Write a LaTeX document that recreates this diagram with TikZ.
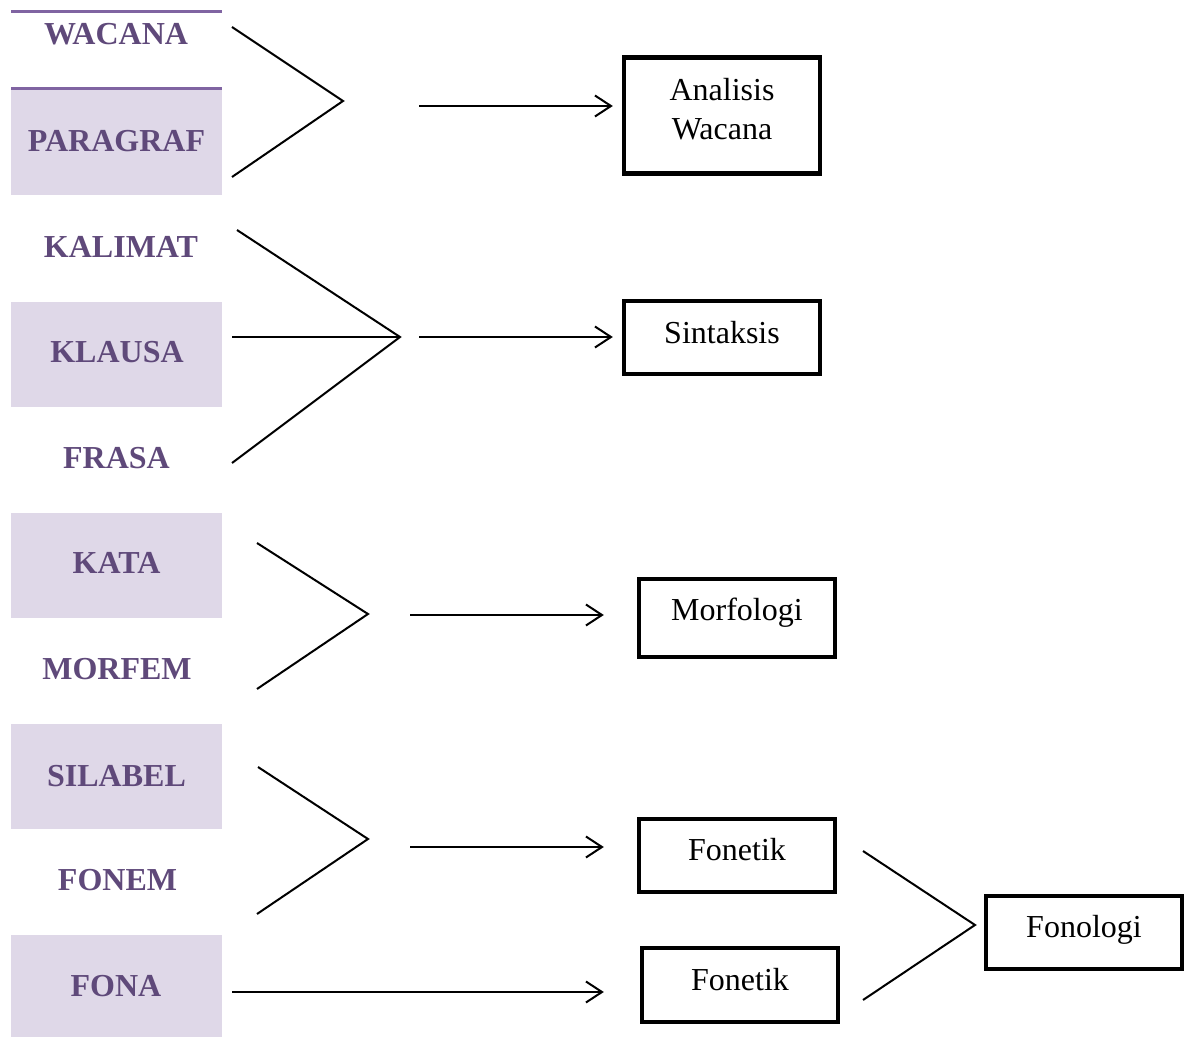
\documentclass[tikz,border=0pt]{standalone}
\usepackage{fontspec}
\setmainfont{Liberation Serif}
\usetikzlibrary{arrows.meta}
\definecolor{cellbg}{HTML}{DFD8E8}
\definecolor{ptext}{HTML}{5F497A}
\definecolor{pline}{HTML}{8064A2}
\begin{document}
\begin{tikzpicture}[x=0.5pt,y=-0.5pt,
  lvl/.style={font=\fontsize{16}{19}\selectfont\bfseries, text=ptext, text height=10.6pt, text depth=0pt, inner sep=0pt},
  box/.style={draw, line width=2.2pt, minimum width=98pt, inner sep=0pt},
  lbl/.style={font=\fontsize{16}{19}\selectfont, text height=10.6pt, text depth=0pt, inner sep=0pt},
  conn/.style={line width=1pt},
  arr/.style={conn, -{Straight Barb[length=8pt,width=10.5pt,line width=1pt]}}]
\useasboundingbox (0,0) rectangle (1189,1037);
% table backgrounds
\fill[cellbg] (11,89) rectangle (222,195);
\fill[cellbg] (11,302) rectangle (222,407);
\fill[cellbg] (11,513) rectangle (222,618);
\fill[cellbg] (11,724) rectangle (222,829);
\fill[cellbg] (11,935) rectangle (222,1037);
\draw[pline, line width=1.5pt] (11,12) -- (222,12);
\draw[pline, line width=1.5pt] (11,89) -- (222,89);
% level labels
\node[lvl] (wacana) at (116,33.5) {WACANA};
\node[lvl] (paragraf) at (116.5,141) {PARAGRAF};
\node[lvl] (kalimat) at (121,247) {KALIMAT};
\node[lvl] (klausa) at (117,352) {KLAUSA};
\node[lvl] (frasa) at (116.5,458) {FRASA};
\node[lvl] (kata) at (116.5,563) {KATA};
\node[lvl] (morfem) at (117,669) {MORFEM};
\node[lvl] (silabel) at (116.5,776) {SILABEL};
\node[lvl] (fonem) at (117.5,880) {FONEM};
\node[lvl] (fona) at (116,986) {FONA};
% boxes
\node[box, minimum height=58pt] (analisis) at (722,115.5) {};
\node[inner sep=0pt, align=center, font=\fontsize{16}{19.5}\selectfont] (analisisT) at (722,109.5) {Analisis\\Wacana};
\node[box, minimum height=36.5pt] (sintaksis) at (722,337.5) {};
\node[lbl] (sintaksisT) at (722,333) {Sintaksis};
\node[box, minimum height=39pt] (morfologi) at (737,618) {};
\node[lbl] (morfologiT) at (737,610) {Morfologi};
\node[box, minimum height=36.5pt] (fonetik1) at (737,855.5) {};
\node[lbl] (fonetik1T) at (737,850) {Fonetik};
\node[box, minimum height=37pt] (fonetik2) at (740,985) {};
\node[lbl] (fonetik2T) at (740,980) {Fonetik};
\node[box, minimum height=36.5pt] (fonologi) at (1084,932.5) {};
\node[lbl] (fonologiT) at (1084,927) {Fonologi};
% connector points
\coordinate (a1) at (232,27);
\coordinate (a2) at (232,177);
\coordinate (ap1) at (343,101);
\coordinate (s1) at (419,106);
\coordinate (b1) at (237,230);
\coordinate (b2) at (232,337);
\coordinate (b3) at (232,463);
\coordinate (ap2) at (400,337);
\coordinate (s2) at (419,337);
\coordinate (c1) at (257,543);
\coordinate (c2) at (257,689);
\coordinate (ap3) at (368,614);
\coordinate (s3) at (410,615);
\coordinate (d1) at (258,767);
\coordinate (d2) at (257,914);
\coordinate (ap4) at (368,839);
\coordinate (s4) at (410,847);
\coordinate (e1) at (232,992);
\coordinate (f1) at (863,851);
\coordinate (f2) at (863,1000);
\coordinate (ap5) at (975,925);
% connectors
\draw[conn] (a1) -- (ap1) -- (a2);
\draw[arr, shorten >=4.5pt] (s1) -- (analisis.west |- s1);
\draw[conn] (b1) -- (ap2) -- (b3);
\draw[conn] (b2) -- (ap2);
\draw[arr, shorten >=4.5pt] (s2) -- (sintaksis.west |- s2);
\draw[conn] (c1) -- (ap3) -- (c2);
\draw[arr, shorten >=16.5pt] (s3) -- (morfologi.west |- s3);
\draw[conn] (d1) -- (ap4) -- (d2);
\draw[arr, shorten >=16.5pt] (s4) -- (fonetik1.west |- s4);
\draw[arr, shorten >=18pt] (e1) -- (fonetik2.west |- e1);
\draw[conn] (f1) -- (ap5) -- (f2);
\end{tikzpicture}
\end{document}
